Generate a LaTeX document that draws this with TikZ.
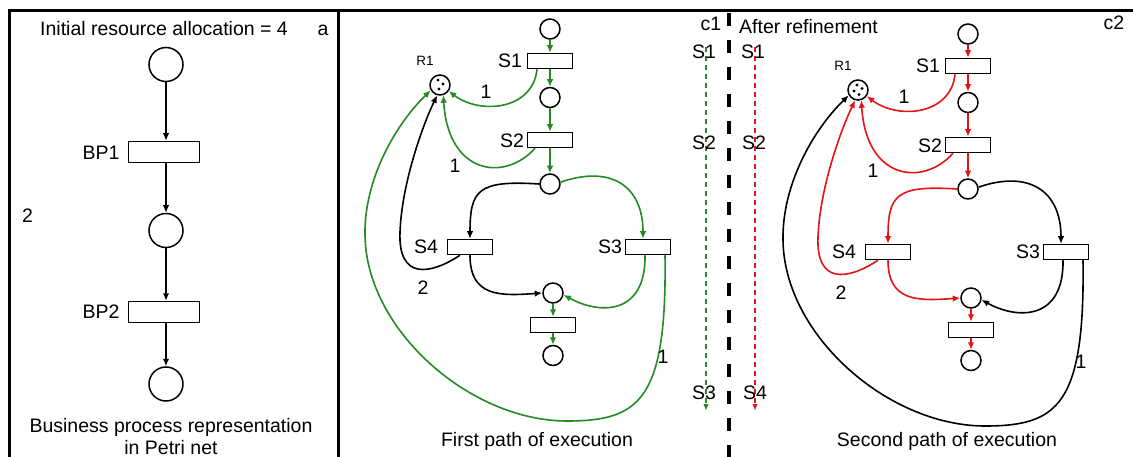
\documentclass[tikz,border=0pt]{standalone}
\usepackage{fontspec}
\setmainfont{Liberation Sans}
\usetikzlibrary{arrows.meta}

\definecolor{pathgreen}{RGB}{34,139,34}
\definecolor{pathred}{RGB}{228,20,20}

\tikzset{
  txt/.style={font=\fontsize{19.5}{23}\selectfont, inner sep=0pt},
  smalltxt/.style={font=\fontsize{13.5}{15}\selectfont, inner sep=0pt},
  bigplace/.style={circle, draw, line width=1.5pt, minimum size=34pt, inner sep=0pt},
  bigtrans/.style={rectangle, draw, line width=1.5pt, minimum width=71pt, minimum height=21pt, inner sep=0pt},
  place/.style={circle, draw, line width=1.5pt, minimum size=20pt, inner sep=0pt},
  trans/.style={rectangle, draw, line width=1.5pt, minimum width=45pt, minimum height=15pt, inner sep=0pt},
  arc/.style={line width=1.6pt, -{Latex[length=7.5pt,width=6.5pt]}},
  token/.style={circle, fill, inner sep=0pt, minimum size=3.4pt},
  frame/.style={line width=3pt},
  trace/.style={line width=1.4pt, dash pattern=on 5pt off 4pt, -{Latex[length=7pt,width=5.5pt]}},
  divider/.style={line width=4pt, dash pattern=on 13pt off 14pt},
}

% One copy of the refined net with its resource place R1.
% #1 name prefix, #2 colour of the shared chain, #3 colour of the S4 branch,
% #4 colour of the S3 branch
\newcommand\netcopy[4]{%
  \node[place] (#1p0) at (550,29) {};
  \node[trans] (#1s1) at (550,61) {};
  \node[place] (#1p1) at (550,97.5) {};
  \node[trans] (#1s2) at (550,140) {};
  \node[place] (#1p2) at (550,184) {};
  \node[trans] (#1s4) at (470,247) {};
  \node[trans] (#1s3) at (648,247) {};
  \node[place] (#1p3) at (553,293) {};
  \node[trans] (#1t)  at (553,325) {};
  \node[place] (#1p4) at (553,355.5) {};
  \node[place] (#1r)  at (440,85) {};
  \node[smalltxt] (#1rl) at (425,61) {R1};
  \node[txt] (#1s1l) at (510,61) {S1};
  \node[txt] (#1s2l) at (512,141) {S2};
  \node[txt] (#1s4l) at (426,247) {S4};
  \node[txt] (#1s3l) at (610,247) {S3};
  % main chain
  \draw[arc,#2] (#1p0) -- (#1s1);
  \draw[arc,#2] (#1s1) -- (#1p1);
  \draw[arc,#2] (#1p1) -- (#1s2);
  \draw[arc,#2] (#1s2) -- (#1p2);
  \draw[arc,#2] (#1p3) -- (#1t);
  \draw[arc,#2] (#1t) -- (#1p4);
  % resource released by S1 and S2
  \draw[arc,#2] ([xshift=-13pt]#1s1.south) .. controls (533,110) and (480,115) .. (#1r.-35);
  \draw[arc,#2] ([xshift=-15pt]#1s2.south) .. controls (505,182) and (448,175) .. (#1r.-72);
  \node[txt] (#1w1) at (486,92) {1};
  \node[txt] (#1w2) at (455,166) {1};
  % S4 branch
  \draw[arc,#3] (#1p2.west) .. controls (478,180) and (470,190) .. (#1s4.north);
  \draw[arc,#3] (#1s4.south) .. controls (470,297) and (500,296) .. (#1p3.west);
  \draw[arc,#3] ([xshift=-10pt]#1s4.south) .. controls (430,275) and (398,280) .. (400,232)
      .. controls (402,180) and (425,120) .. (#1r.-105);
  \node[txt] (#1w3) at (423,288) {2};
  % S3 branch
  \draw[arc,#4] (#1p2.10) .. controls (610,165) and (643,185) .. ([xshift=-5pt]#1s3.north);
  \draw[arc,#4] ([xshift=-3pt]#1s3.south) .. controls (646,315) and (600,315) .. (#1p3.-10);
  \draw[arc,#4] ([xshift=17pt]#1s3.south) .. controls (667,400) and (640,421) .. (567,421)
      .. controls (470,421) and (366,330) .. (365,235)
      .. controls (364,180) and (395,125) .. (#1r.-150);
  \node[txt] (#1w4) at (663,357) {1};
}

\begin{document}
\begin{tikzpicture}[x=1pt,y=-1pt]
\useasboundingbox (0,0) rectangle (1133,457);

% outer frame and panel separator
\draw[frame] (8,10.5) -- (1133,10.5);
\draw[frame] (9.5,9) -- (9.5,457);
\draw[frame] (338,10) -- (338,457);

% panel a: business process as a Petri net
\node[txt] (atitle) at (164,29) {Initial resource allocation = 4};
\node[txt, anchor=base] (alabel) at (323,36) {a};
\node[txt] (atwo) at (27.5,216) {2};
\node[bigplace] (pa1) at (166,64.5) {};
\node[bigtrans] (bp1) at (164,152) {};
\node[txt] (bp1l) at (101,152.5) {BP1};
\node[bigplace] (pa2) at (166,230.5) {};
\node[bigtrans] (bp2) at (164,312) {};
\node[txt] (bp2l) at (101,312) {BP2};
\node[bigplace] (pa3) at (166,384) {};
\draw[arc] (pa1) -- (pa1 |- bp1.north);
\draw[arc] (pa1 |- bp1.south) -- (pa2);
\draw[arc] (pa2) -- (pa2 |- bp2.north);
\draw[arc] (pa2 |- bp2.south) -- (pa3);
\node[txt] (acap1) at (171,427) {Business process representation};
\node[txt] (acap2) at (171,448) {in Petri net};

% panel c1: first path of execution
\netcopy{A}{pathgreen}{black}{pathgreen}
\node[token] (Ak1) at ([shift={(-2,-5)}]Ar) {};
\node[token] (Ak2) at ([shift={(3,-1)}]Ar) {};
\node[token] (Ak3) at ([shift={(-1,4)}]Ar) {};
\node[txt] (ccap1) at (537,441) {First path of execution};
\node[txt, anchor=base] (clabel1) at (711,31) {c1};

% execution traces on both sides of the divider
\coordinate (gtop) at (706,47);
\coordinate (gend) at (706,411);
\draw[trace, pathgreen] (gtop) -- (gend);
\node[txt] (g1) at (704,52) {S1};
\node[txt] (g2) at (704,143) {S2};
\node[txt] (g3) at (704,393) {S3};
\coordinate (rtop) at (755,47);
\coordinate (rend) at (755,411);
\draw[trace, pathred] (rtop) -- (rend);
\node[txt] (r1) at (753,52) {S1};
\node[txt] (r2) at (754,143) {S2};
\node[txt] (r3) at (755,393) {S4};
\coordinate (dtop) at (729,13);
\coordinate (dend) at (729,457);
\draw[divider] (dtop) -- (dend);

% panel c2: second path of execution
\node[txt, anchor=west] (after) at (739,27) {After refinement};
\node[txt, anchor=base] (clabel2) at (1114,30) {c2};
\begin{scope}[shift={(418,5)}]
\netcopy{B}{pathred}{pathred}{black}
\end{scope}
\node[token] (Bk1) at ([shift={(-1,-5)}]Br) {};
\node[token] (Bk2) at ([shift={(4,-1.5)}]Br) {};
\node[token] (Bk3) at ([shift={(-4,1)}]Br) {};
\node[token] (Bk4) at ([shift={(1,4.5)}]Br) {};
\node[txt] (ccap2) at (947,441) {Second path of execution};
\end{tikzpicture}
\end{document}
